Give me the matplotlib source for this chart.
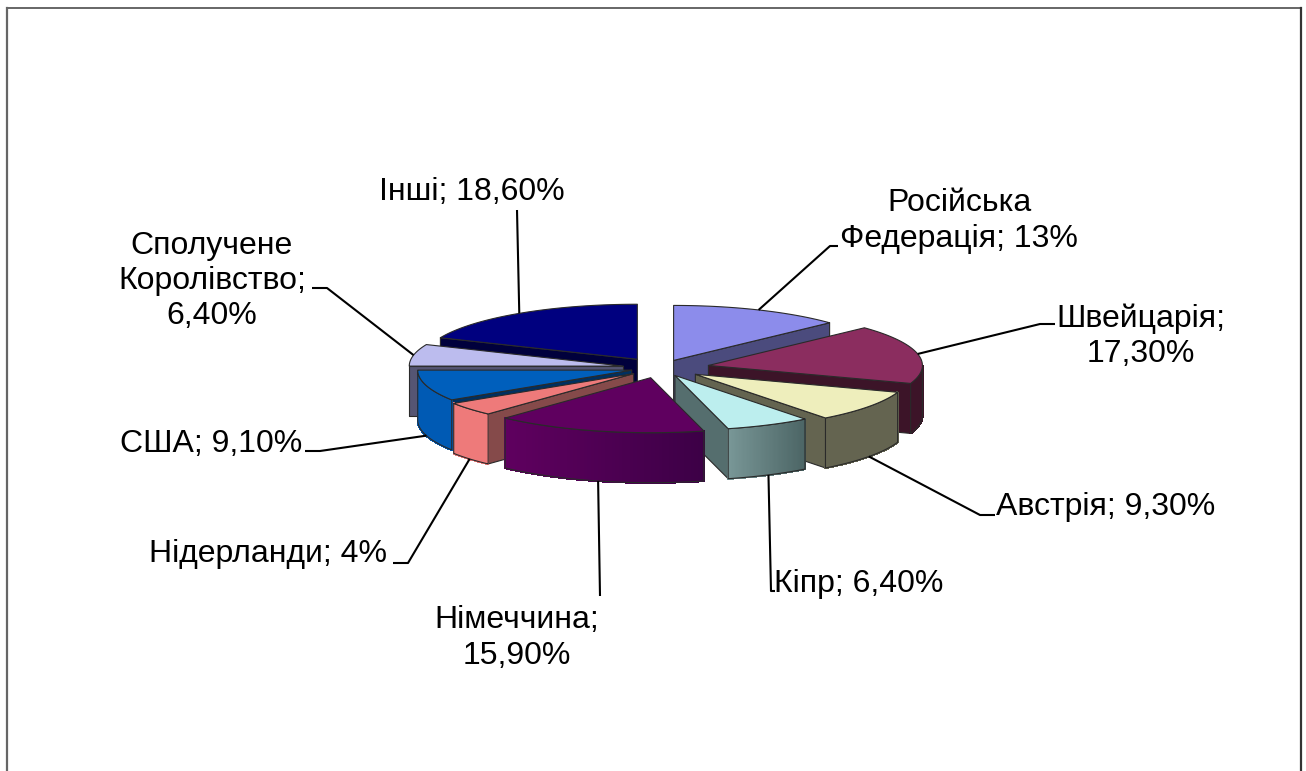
import numpy as np
import matplotlib
matplotlib.use('Agg')
import matplotlib.pyplot as plt
from matplotlib.patches import Polygon
from matplotlib.colors import to_rgb

plt.rcParams['font.family'] = ['Liberation Sans', 'DejaVu Sans']

# data
names = ['Російська\nФедерація', 'Швейцарія', 'Австрія', 'Кіпр', 'Німеччина',
         'Нідерланди', 'США', 'Сполучене\nКоролівство', 'Інші']
shares = [13.0, 17.3, 9.3, 6.4, 15.9, 4.0, 9.1, 6.4, 18.6]
share_text = ['13%', '17,30%', '9,30%', '6,40%', '15,90%', '4%', '9,10%', '6,40%', '18,60%']
# label goes on a new line after the name for these
wrap_value = [False, True, False, False, True, False, False, True, False]

# colours and pulled out distance of each slice
top_col = ['#8C8CEB', '#8B2D5F', '#EEEEBC', '#BCEEEE', '#5F005F', '#EE7A7A', '#005FBC', '#BCBCEE', '#00007F']
cut_col = ['#4B4B7D', '#3C1428', '#646450', '#556E6E', '#500050', '#854A4A', '#003060', '#555573', '#00003C']
out_left = ['#4B4B7D', '#3C1428', '#646450', '#789696', '#5F005F', '#EE7A7A', '#005AB4', '#555573', '#00003C']
out_right = ['#4B4B7D', '#3C1428', '#646450', '#4B6464', '#3C0046', '#EE7A7A', '#005AB4', '#555573', '#00003C']
explode = [33, 49, 43, 33, 40, 35, 30, 38, 42]

# pie geometry, in pixels
cx, cy = 660.5, 368
rx, ry = 214, 55
depth = 50
squash = 0.25
edge = '#2a2a2a'

# label centre and bend of each leader
label_xy = [(959, 221), (1141, 336), (1106, 507), (859, 584), (517, 638),
            (268, 554), (211, 444), (212, 281), (472, 192)]
bends = [[(830, 246), (838, 246)], [(1040, 324), (1055, 324)], [(980, 515), (995, 515)],
         [(771, 591), (775, 591)], [(600, 596)], [(408, 563), (393, 563)],
         [(320, 451), (305, 451)], [(327, 288), (312, 288)], [(517, 210)]]
draw_order = [0, 8, 1, 7, 2, 6, 5, 3, 4]

fig = plt.figure(figsize=(13.06, 7.71), dpi=100)
ax = fig.add_axes([0, 0, 1, 1])
ax.set_xlim(0, 1306)
ax.set_ylim(771, 0)
ax.axis('off')

# chart frame, bottom side is cut off
ax.plot([6.5, 6.5], [771, 8], color='#666666', lw=1.6)
ax.plot([6.5, 1301], [8, 8], color='#666666', lw=1.4)
ax.plot([1301, 1301], [8, 771], color='#333333', lw=1.6)

stops = np.cumsum([0] + shares) / sum(shares) * 360


def arc(tip, a0, a1, n=60):
    th = np.radians(np.linspace(a0, a1, n))
    return tip[0] + rx * np.sin(th), tip[1] - ry * np.cos(th)


def draw_slice(i):
    a0, a1 = stops[i], stops[i + 1]
    mid = np.radians((a0 + a1) / 2)
    tip = (cx + explode[i] * np.sin(mid), cy - explode[i] * squash * np.cos(mid))

    # cut faces that look to the viewer
    for ang, show in ((a0, np.sin(np.radians(a0)) < -1e-6), (a1, np.sin(np.radians(a1)) > 1e-6)):
        if show:
            px, py = arc(tip, ang, ang, 1)
            pts = [tip, (px[0], py[0]), (px[0], py[0] + depth), (tip[0], tip[1] + depth)]
            ax.add_patch(Polygon(pts, fc=cut_col[i], ec=edge, lw=0.8, joinstyle='round'))

    # outer wall, only the front part
    w0, w1 = max(a0, 90), min(a1, 270)
    if w1 > w0:
        xs, ys = arc(tip, w0, w1)
        left, right = np.array(to_rgb(out_left[i])), np.array(to_rgb(out_right[i]))
        lo, hi = xs.min(), xs.max()
        for k in range(len(xs) - 1):
            t = ((xs[k] + xs[k + 1]) / 2 - lo) / (hi - lo)
            col = left + (right - left) * t
            ax.add_patch(Polygon([(xs[k], ys[k]), (xs[k + 1], ys[k + 1]),
                                  (xs[k + 1], ys[k + 1] + depth), (xs[k], ys[k] + depth)],
                                 fc=col, ec=col, lw=1.0, antialiased=False))
        outline = list(zip(xs, ys)) + list(zip(xs[::-1], ys[::-1] + depth))
        ax.add_patch(Polygon(outline, fill=False, ec=edge, lw=0.8))

    # top face
    xs, ys = arc(tip, a0, a1)
    ax.add_patch(Polygon([tip] + list(zip(xs, ys)), fc=top_col[i], ec=edge, lw=0.8, joinstyle='round'))
    return tip


tips = {}
for i in draw_order:
    tips[i] = draw_slice(i)

# leaders and labels
for i in range(len(names)):
    mid = (stops[i] + stops[i + 1]) / 2
    sx, sy = arc(tips[i], mid, mid, 1)
    start_y = sy[0] + (depth if np.cos(np.radians(mid)) < 0 else 0)
    line_x = [sx[0]] + [p[0] for p in bends[i]]
    line_y = [start_y] + [p[1] for p in bends[i]]
    ax.plot(line_x, line_y, color='black', lw=1.5, zorder=1, solid_capstyle='butt')
    sep = ';\n' if wrap_value[i] else '; '
    ax.text(label_xy[i][0], label_xy[i][1], names[i] + sep + share_text[i], fontsize=23,
            ha='center', va='center', linespacing=1.22, color='black')

plt.savefig('out.png', dpi=100)
plt.close()
